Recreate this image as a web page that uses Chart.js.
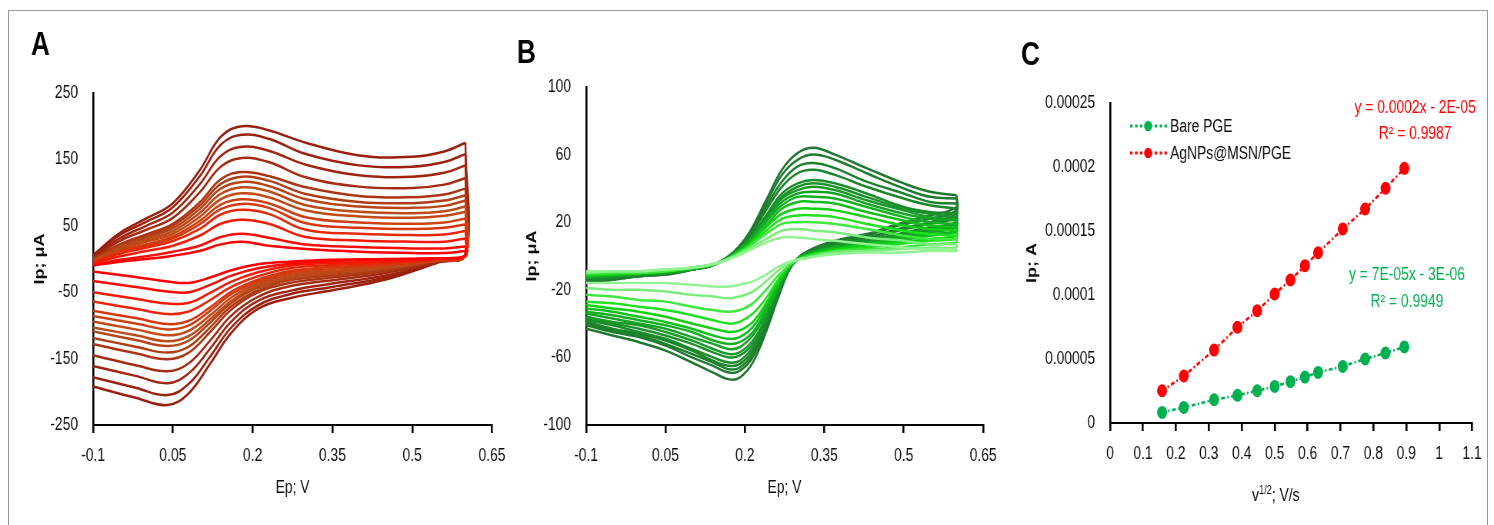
<!DOCTYPE html>
<html>
<head>
<meta charset="utf-8">
<script src="https://cdn.jsdelivr.net/npm/chart.js@4.4.1/dist/chart.umd.min.js"></script>
<style>
  html, body { margin: 0; padding: 0; background: #fff; }
  #wrap { position: relative; width: 1494px; height: 525px; overflow: hidden; background: #fff; }
  /* canvases are drawn 1.3x wider and squeezed back, which gives the narrow lettering */
  #wrap canvas { position: absolute; left: 0; top: 0; transform: scaleX(0.769284); transform-origin: 0 0; }
  #frame { position: absolute; left: 8px; top: 10px; width: 1478px; height: 540px; border: 1px solid #9a9a9a; }
</style>
</head>
<body>
<div id="wrap">
  <div id="frame"></div>
  <canvas id="cvA" width="1942" height="525"></canvas>
  <canvas id="cvB" width="1942" height="525"></canvas>
  <canvas id="plotC" width="1942" height="525"></canvas>
</div>
<script>
// ---- panel A : CVs, 15 scan rates (red) ----
const potFwdA = [-0.1, -0.05, 0, 0.05, 0.1, 0.14, 0.18, 0.23, 0.3, 0.4, 0.5, 0.56, 0.6];
const potRevA = [0.6, 0.55, 0.45, 0.35, 0.27, 0.21, 0.16, 0.12, 0.08, 0.04, -0.02, -0.1];
const ipFwdA = [
  [-10, -4, 0, 5, 12, 22, 26, 20, 15, 11, 9, 9, 12],
  [-9, -1, 4, 11, 20, 33, 38, 32, 22, 18, 16, 16, 19],
  [-7, 4, 12, 20, 35, 53, 59, 53, 33, 28, 26, 26, 31],
  [-6, 8, 17, 27, 45, 67, 74, 68, 44, 38, 36, 37, 42],
  [-5, 10, 20, 31, 52, 75, 83, 77, 54, 47, 45, 47, 52],
  [-4, 12, 22, 34, 57, 82, 90, 84, 63, 55, 53, 55, 61],
  [-3, 14, 26, 38, 63, 90, 99, 93, 73, 64, 62, 65, 71],
  [-2, 16, 29, 42, 69, 98, 108, 102, 81, 71, 69, 72, 79],
  [-2, 18, 32, 46, 75, 106, 116, 110, 90, 79, 77, 80, 88],
  [-1, 20, 34, 50, 80, 113, 124, 118, 98, 86, 84, 88, 96],
  [0, 22, 37, 53, 85, 120, 131, 125, 108, 95, 93, 97, 106],
  [2, 27, 44, 62, 100, 139, 152, 146, 123, 109, 107, 112, 122],
  [3, 31, 50, 70, 112, 155, 169, 163, 142, 126, 124, 130, 141],
  [5, 36, 56, 78, 124, 172, 187, 181, 158, 141, 139, 146, 158],
  [6, 39, 61, 84, 133, 184, 200, 194, 175, 156, 154, 162, 175]
];
const ipRevA = [
  [4, 1, 0, -1, -4, -8, -17, -28, -36, -34, -27, -19],
  [4, 1, -1, -3, -7, -14, -25, -39, -50, -49, -42, -33],
  [5, 0, -4, -6, -10, -20, -34, -51, -66, -67, -60, -50],
  [5, 0, -6, -9, -14, -26, -42, -62, -79, -83, -75, -64],
  [5, -1, -8, -12, -18, -31, -49, -73, -93, -98, -89, -78],
  [6, -1, -9, -15, -21, -34, -53, -78, -100, -106, -97, -86],
  [6, -1, -11, -18, -24, -37, -58, -85, -108, -115, -106, -94],
  [6, -2, -13, -20, -27, -40, -63, -91, -116, -124, -115, -103],
  [6, -2, -14, -22, -30, -43, -66, -96, -123, -131, -122, -109],
  [7, -2, -16, -25, -32, -47, -71, -103, -132, -141, -132, -119],
  [7, -3, -18, -28, -36, -50, -76, -110, -141, -151, -142, -128],
  [7, -3, -21, -32, -41, -57, -85, -123, -157, -169, -160, -145],
  [8, -4, -25, -37, -48, -63, -94, -135, -172, -187, -176, -161],
  [9, -4, -28, -42, -53, -70, -103, -147, -188, -205, -194, -178],
  [9, -5, -31, -47, -59, -75, -111, -158, -202, -220, -209, -192]
];
const colorsA = ['#ff0000', '#fa0c03', '#f21a06', '#e6280a', '#d8360e', '#cc4012', '#c24816', '#bb4a18',
                 '#b64418', '#b03c16', '#aa3414', '#a42a12', '#a02410', '#9c200e', '#9a1e0e'];

// ---- panel B : CVs, 15 scan rates (green) ----
const potFwdB = [-0.1, -0.05, 0, 0.05, 0.1, 0.15, 0.2, 0.24, 0.27, 0.3, 0.33, 0.37, 0.43, 0.5, 0.55, 0.6];
const potRevB = [0.6, 0.55, 0.49, 0.43, 0.37, 0.32, 0.29, 0.265, 0.24, 0.215, 0.19, 0.17, 0.14, 0.1, 0.05, 0, -0.05, -0.1];
const ipFwdB = [
  [-9, -9, -9, -8, -7, -4, 2, 8, 11, 11, 10, 9, 7, 5, 4, 4],
  [-10, -9, -9, -8, -7, -4, 3, 10, 15, 16, 15, 14, 11, 9, 7, 7],
  [-10, -10, -10, -9, -7, -4, 4, 13, 19, 20, 20, 19, 16, 12, 10, 10],
  [-11, -10, -10, -9, -7, -4, 4, 15, 22, 24, 24, 23, 19, 15, 13, 12],
  [-11, -11, -10, -9, -7, -4, 5, 17, 25, 28, 28, 27, 23, 18, 16, 15],
  [-12, -11, -10, -9, -7, -4, 5, 18, 28, 32, 32, 31, 26, 21, 18, 17],
  [-12, -11, -10, -9, -7, -4, 6, 20, 30, 35, 35, 34, 29, 23, 20, 19],
  [-13, -12, -11, -10, -8, -4, 6, 21, 32, 37, 38, 37, 31, 25, 22, 21],
  [-13, -12, -11, -10, -8, -4, 7, 22, 34, 39, 41, 39, 33, 27, 23, 22],
  [-13, -12, -11, -10, -8, -4, 7, 23, 35, 41, 43, 41, 35, 28, 25, 23],
  [-13, -12, -11, -10, -8, -4, 7, 24, 37, 43, 45, 43, 37, 29, 26, 25],
  [-14, -13, -11, -10, -8, -4, 8, 27, 41, 49, 51, 48, 41, 34, 30, 28],
  [-15, -13, -12, -10, -8, -4, 9, 29, 44, 53, 55, 52, 44, 37, 32, 31],
  [-15, -14, -12, -11, -8, -4, 9, 31, 48, 57, 60, 57, 49, 40, 35, 34],
  [-16, -14, -12, -11, -8, -4, 10, 33, 51, 61, 64, 60, 52, 43, 38, 36]
];
const ipRevB = [
  [3, 3, 2, 2, 1, -1, -3, -6, -11, -15, -17, -18, -18, -17, -16, -16, -16, -16],
  [5, 5, 4, 3, 2, -1, -3, -8, -15, -21, -24, -25, -24, -23, -21, -20, -20, -19],
  [8, 7, 5, 4, 3, 0, -4, -11, -20, -28, -32, -33, -32, -30, -27, -26, -24, -23],
  [10, 9, 7, 5, 3, 0, -4, -13, -25, -34, -39, -40, -38, -35, -32, -30, -28, -27],
  [12, 10, 8, 6, 4, 0, -4, -14, -28, -39, -44, -45, -43, -40, -36, -33, -31, -29],
  [14, 12, 9, 7, 4, 1, -4, -16, -30, -42, -48, -49, -47, -43, -39, -36, -33, -31],
  [15, 13, 10, 7, 5, 1, -4, -17, -32, -45, -51, -52, -50, -45, -41, -38, -35, -33],
  [17, 14, 11, 8, 5, 1, -4, -17, -34, -47, -54, -55, -52, -48, -43, -40, -37, -34],
  [18, 15, 12, 8, 6, 1, -4, -18, -36, -50, -57, -58, -55, -50, -45, -41, -39, -36],
  [19, 16, 12, 9, 6, 1, -5, -19, -37, -52, -59, -60, -57, -52, -47, -43, -40, -37],
  [20, 17, 13, 9, 6, 2, -5, -20, -39, -54, -62, -63, -60, -55, -49, -45, -41, -38],
  [23, 19, 15, 10, 7, 2, -5, -21, -40, -56, -64, -65, -62, -56, -50, -46, -43, -39],
  [25, 20, 16, 11, 8, 2, -5, -21, -41, -58, -66, -67, -63, -58, -52, -47, -44, -40],
  [27, 22, 18, 12, 8, 3, -5, -22, -43, -60, -68, -69, -65, -60, -53, -48, -45, -41],
  [29, 24, 19, 13, 9, 3, -5, -23, -45, -63, -72, -73, -69, -63, -56, -51, -47, -43]
];
const colorsB = ['#93f293', '#7cec7c', '#3ee83e', '#1fe01f', '#12d012', '#10bf1c', '#14b022', '#17a426',
                 '#199a28', '#1a922a', '#1b8b2b', '#1c852c', '#1d802d', '#1e7b2e', '#1f772f'];

// ---- panel C : peak current vs square root of scan rate ----
const sqrtScanRate = [0.158, 0.224, 0.316, 0.387, 0.447, 0.5, 0.548, 0.592, 0.632, 0.707, 0.775, 0.837, 0.894];
const ipBare = [8.3e-6, 1.22e-5, 1.82e-5, 2.16e-5, 2.52e-5, 2.86e-5, 3.23e-5, 3.59e-5, 3.95e-5, 4.42e-5, 5.0e-5, 5.47e-5, 5.94e-5];
const ipAgMsn = [2.52e-5, 3.67e-5, 5.70e-5, 7.48e-5, 8.77e-5, 1.008e-4, 1.117e-4, 1.229e-4, 1.330e-4, 1.516e-4, 1.672e-4, 1.834e-4, 1.990e-4];
const seriesNames = ['Bare PGE', 'AgNPs@MSN/PGE'];
const fitLines = [
  { text: 'y = 0.0002x - 2E-05', x: 0.927, y: 0.000246, color: '#ff0000' },
  { text: 'R² = 0.9987',         x: 0.927, y: 0.000226, color: '#ff0000' },
  { text: 'y = 7E-05x - 3E-06',  x: 0.902, y: 0.0001156, color: '#00b050' },
  { text: 'R² = 0.9949',         x: 0.902, y: 0.0000945, color: '#00b050' }
];

// horizontal stretch of the drawing surface (undone by the css transform)
const SX = 1.3;
const FONT = "'Liberation Sans', Arial, sans-serif";
Chart.defaults.font.family = FONT;
Chart.defaults.font.size = 18;
Chart.defaults.color = '#0d0d0d';

const tidy = v => String(parseFloat(Number(v).toFixed(6)));

// big letter in the corner of each panel
const panelLetter = {
  id: 'panelLetter',
  afterDraw(chart, args, opts) {
    if (!opts.text) return;
    const ctx = chart.ctx;
    ctx.save();
    ctx.font = 'bold 34px ' + FONT;
    ctx.fillStyle = '#000';
    ctx.textBaseline = 'alphabetic';
    ctx.fillText(opts.text, opts.x * SX, opts.y);
    ctx.restore();
  }
};

function axisX(min, max, step, title, height) {
  return {
    type: 'linear', min: min, max: max,
    ticks: { stepSize: step, padding: 12, autoSkip: false, maxRotation: 0, callback: v => tidy(v) },
    grid: { drawOnChartArea: false, drawTicks: true, tickLength: 8, color: '#000', lineWidth: 2.6 },
    border: { color: '#000', width: 2 },
    title: { display: !!title, text: title, font: { size: 18 }, padding: { top: 0, bottom: 1 } },
    afterFit: s => { s.height = height; }
  };
}

function axisY(min, max, step, title, width, titlePad) {
  return {
    type: 'linear', min: min, max: max,
    ticks: { stepSize: step, padding: 15 * SX, autoSkip: false, callback: v => tidy(v) },
    grid: { display: false, drawTicks: false },
    border: { color: '#000', width: 2 * SX },
    title: { display: true, text: title, font: { weight: 'bold', size: 18 }, padding: { top: titlePad, bottom: 0 } },
    afterFit: s => { s.width = width * SX; }
  };
}

// plot area given in page pixels: left, right, top, bottom
function areaPadding(left, right, top, bottom, yWidth, xHeight) {
  return {
    left: (left - yWidth) * SX,
    right: 1942 - right * SX,
    top: top,
    bottom: 525 - bottom - xHeight
  };
}

// each voltammogram = forward sweep + reverse sweep (starting at the switching point)
function cvChart(id, o) {
  const datasets = [];
  o.fwd.forEach((row, k) => {
    const fwd = o.potFwd.map((e, i) => ({ x: e, y: row[i] }));
    const turn = fwd[fwd.length - 1];
    const rev = [turn].concat(o.potRev.map((e, i) => ({ x: e, y: o.rev[k][i] })));
    [fwd, rev].forEach(pts => datasets.push({
      data: pts,
      borderColor: o.colors[k],
      borderWidth: 2.5,
      pointRadius: 0,
      showLine: true,
      tension: 0.4,
      fill: false
    }));
  });
  return new Chart(document.getElementById(id), {
    type: 'scatter',
    data: { datasets },
    plugins: [panelLetter],
    options: {
      responsive: false,
      animation: false,
      events: [],
      layout: { padding: areaPadding(o.area[0], o.area[1], o.area[2], o.area[3], 80, 75) },
      plugins: { legend: { display: false }, tooltip: { enabled: false }, panelLetter: o.letter },
      scales: {
        x: axisX(-0.1, 0.65, 0.15, 'Ep; V', 75),
        y: axisY(o.yMin, o.yMax, o.yStep, 'Ip; μA', 80, o.titlePad)
      }
    }
  });
}

cvChart('cvA', {
  potFwd: potFwdA, potRev: potRevA, fwd: ipFwdA, rev: ipRevA, colors: colorsA,
  yMin: -250, yMax: 250, yStep: 100, titlePad: 24,
  area: [93, 492, 93, 425],
  letter: { text: 'A', x: 31, y: 55 }
});

cvChart('cvB', {
  potFwd: potFwdB, potRev: potRevB, fwd: ipFwdB, rev: ipRevB, colors: colorsB,
  yMin: -100, yMax: 100, yStep: 40, titlePad: 23,
  area: [586, 983, 87, 425],
  letter: { text: 'B', x: 517, y: 63 }
});

// legend, fitted equations and the v^1/2 axis title for panel C
const panelCNotes = {
  id: 'panelCNotes',
  afterDraw(chart) {
    const { ctx, chartArea, scales } = chart;
    ctx.save();
    // legend
    chart.data.datasets.forEach((ds, i) => {
      const y = chartArea.top + 23 + i * 27;
      const x0 = chartArea.left + 20 * SX;
      ctx.strokeStyle = ds.borderColor;
      ctx.lineWidth = 3;
      ctx.setLineDash([3.2, 3.2]);
      ctx.beginPath();
      ctx.moveTo(x0, y);
      ctx.lineTo(x0 + 37 * SX, y);
      ctx.stroke();
      ctx.setLineDash([]);
      ctx.fillStyle = ds.backgroundColor;
      ctx.beginPath();
      ctx.arc(x0 + 18 * SX, y, 5.2, 0, Math.PI * 2);
      ctx.fill();
      ctx.fillStyle = '#0d0d0d';
      ctx.font = '18px ' + FONT;
      ctx.textAlign = 'left';
      ctx.textBaseline = 'middle';
      ctx.fillText(ds.label, chartArea.left + 60 * SX, y + 1);
    });
    // trendline equations
    ctx.font = '18px ' + FONT;
    ctx.textAlign = 'center';
    ctx.textBaseline = 'middle';
    fitLines.forEach(f => {
      ctx.fillStyle = f.color;
      ctx.fillText(f.text, scales.x.getPixelForValue(f.x), scales.y.getPixelForValue(f.y));
    });
    // x title with superscript
    const base = chartArea.bottom + 78;
    let x = chartArea.left + 142 * SX;
    ctx.fillStyle = '#0d0d0d';
    ctx.textAlign = 'left';
    ctx.textBaseline = 'alphabetic';
    ctx.font = '18px ' + FONT;
    ctx.fillText('v', x, base);
    x += ctx.measureText('v').width;
    ctx.font = '12px ' + FONT;
    ctx.fillText('1/2', x, base - 7);
    x += ctx.measureText('1/2').width;
    ctx.font = '18px ' + FONT;
    ctx.fillText('; V/s', x, base);
    ctx.restore();
  }
};

new Chart(document.getElementById('plotC'), {
  type: 'scatter',
  data: {
    datasets: [
      {
        label: seriesNames[0],
        data: sqrtScanRate.map((v, i) => ({ x: v, y: ipBare[i] })),
        borderColor: '#00b050', backgroundColor: '#00b050',
        borderWidth: 2.6, borderDash: [5, 3, 2, 3],
        pointRadius: 5.2, showLine: true
      },
      {
        label: seriesNames[1],
        data: sqrtScanRate.map((v, i) => ({ x: v, y: ipAgMsn[i] })),
        borderColor: '#ff0000', backgroundColor: '#ff0000',
        borderWidth: 2.6, borderDash: [5, 3, 2, 3],
        pointRadius: 5.2, showLine: true
      }
    ]
  },
  plugins: [panelLetter, panelCNotes],
  options: {
    responsive: false,
    animation: false,
    events: [],
    layout: { padding: areaPadding(1110, 1472, 103, 423, 100, 80) },
    plugins: { legend: { display: false }, tooltip: { enabled: false }, panelLetter: { text: 'C', x: 1021, y: 65 } },
    scales: {
      x: axisX(0, 1.1, 0.1, '', 80),
      y: axisY(0, 0.00025, 0.00005, 'Ip; A', 100, 18)
    }
  }
});
</script>
</body>
</html>
